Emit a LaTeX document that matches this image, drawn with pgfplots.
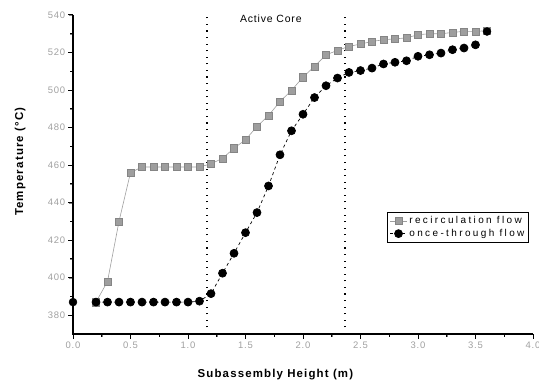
\documentclass[border=0pt]{standalone}
\usepackage{fontspec}
\setmainfont{Liberation Sans}
\newfontfamily\wide[LetterSpace=8]{Liberation Sans}
\newfontfamily\lab[LetterSpace=10]{Liberation Sans}
\newfontfamily\leg[LetterSpace=24]{Liberation Sans}
\usepackage{pgfplots}
\pgfplotsset{compat=1.18}
\definecolor{sq}{HTML}{9E9E9E}
\definecolor{sqd}{HTML}{858585}
\definecolor{tl}{HTML}{A0A0A0}
\begin{document}
\begin{tikzpicture}
\useasboundingbox (0,0) rectangle (539bp,387bp);
\begin{axis}[
  at={(73bp,53bp)}, anchor=south west,
  scale only axis, width=460bp, height=319bp,
  xmin=0, xmax=4, ymin=370, ymax=540,
  axis x line=bottom, axis y line=left,
  x axis line style={-},
  y axis line style={-},
  xtick={0,0.5,...,4}, minor x tick num=1,
  ytick={380,400,...,540}, minor y tick num=1,
  tick align=outside,
  /pgf/number format/assume math mode=true,
  x tick label style={/pgf/number format/fixed, /pgf/number format/fixed zerofill, /pgf/number format/precision=1},
  ticklabel style={font={\wide\fontsize{9.5}{10}\selectfont\color{tl}}},
  xlabel={Subassembly Height (m)},
  ylabel={Temperature (\textdegree C)},
  xlabel style={font=\lab\bfseries\fontsize{11.5}{12}\selectfont, at={(axis description cs:0.44,-0.128)}, anchor=center},
  ylabel style={font=\lab\bfseries\fontsize{11.5}{12}\selectfont, at={(axis description cs:-0.115,0.54)}, anchor=center},
  legend style={at={(0.991,0.382)}, anchor=north east, draw=black, line width=0.9pt,
    font=\leg\fontsize{10}{10}\selectfont, row sep=0pt, inner sep=2pt, fill=white},
  legend cell align=left,
  clip=false,
]
\addplot[sq, line width=0.6pt, mark=square*, mark size=3.6bp, mark options={fill=sq, draw=sqd, line width=0.4pt}]
coordinates {
(0.2,387) (0.3,398) (0.4,430) (0.5,456) (0.6,459) (0.7,459) (0.8,459) (0.9,459) (1.0,459) (1.1,459)
(1.2,460.7) (1.3,463.6) (1.4,469) (1.5,473.5) (1.6,480.6) (1.7,486.4) (1.8,493.9) (1.9,499.8)
(2.0,506.9) (2.1,512.6) (2.2,518.8) (2.3,521.1) (2.4,523.3) (2.5,524.5) (2.6,525.9) (2.7,526.8)
(2.8,527.3) (2.9,527.8) (3.0,529.5) (3.1,530) (3.2,530) (3.3,530.7) (3.4,531.3) (3.5,531.3) (3.6,531.6)
};
\addlegendentry{recirculation flow}
\addplot[black, line width=0.7pt, dashed, mark=*, mark size=4bp, mark options={solid, fill=black}]
coordinates {
(0.2,387) (0.3,387) (0.4,387) (0.5,387) (0.6,387) (0.7,387) (0.8,387) (0.9,387) (1.0,387) (1.1,387.5)
(1.2,391.5) (1.3,402.4) (1.4,413) (1.5,424) (1.6,434.7) (1.7,448.9) (1.8,465.5) (1.9,478.3)
(2.0,487.1) (2.1,496) (2.2,502.3) (2.3,506.4) (2.4,509.4) (2.5,510.4) (2.6,511.7) (2.7,513.9)
(2.8,514.8) (2.9,515.6) (3.0,518) (3.1,518.8) (3.2,519.7) (3.3,521.5) (3.4,522.4) (3.5,524.1)
};
\addlegendentry{once-through flow}
\addplot[only marks, black, mark=*, mark size=4bp, forget plot] coordinates {(0.0,387) (3.6,531.2)};
\addplot[black, line width=1.1pt, dash pattern=on 1.1pt off 5.5pt, forget plot] coordinates {(1.165,370) (1.165,540)};
\addplot[black, line width=1.1pt, dash pattern=on 1.1pt off 5.5pt, forget plot] coordinates {(2.365,370) (2.365,540)};
\node[font=\wide\fontsize{10.5}{11}\selectfont, anchor=center] at (axis cs:1.72,538) {Active Core};
\draw[black, line width=1.3pt] (rel axis cs:0,1) -- (rel axis cs:0,0) -- (rel axis cs:1,0);
\pgfplotsinvokeforeach{0,0.5,...,4}{\draw[black, line width=1pt] (axis cs:#1,370) -- ++(0pt,-4.5bp);}
\pgfplotsinvokeforeach{0.25,0.75,...,3.75}{\draw[black, line width=1pt] (axis cs:#1,370) -- ++(0pt,-3bp);}
\pgfplotsinvokeforeach{380,400,...,540}{\draw[black, line width=1pt] (axis cs:0,#1) -- ++(-4.5bp,0pt);}
\pgfplotsinvokeforeach{390,410,...,530}{\draw[black, line width=1pt] (axis cs:0,#1) -- ++(-3bp,0pt);}
\end{axis}
\end{tikzpicture}
\end{document}
